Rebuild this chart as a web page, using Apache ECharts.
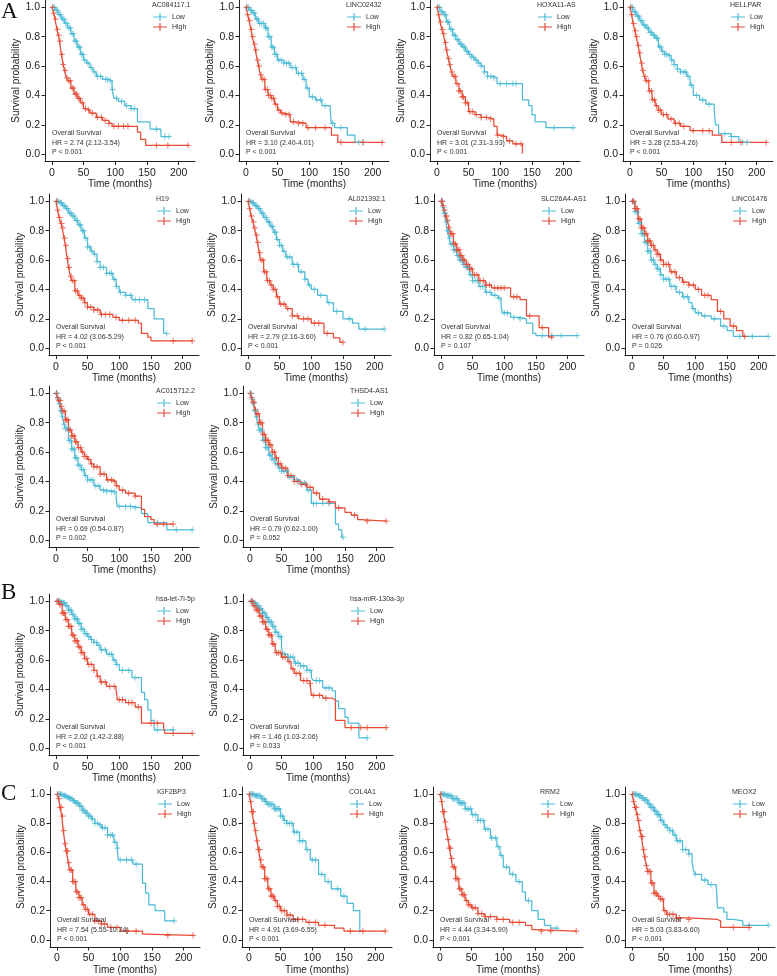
<!DOCTYPE html>
<html><head><meta charset="utf-8">
<script src="https://cdn.jsdelivr.net/npm/echarts@6/dist/echarts.min.js"></script>
<style>html,body{margin:0;padding:0;background:#fff}#c{width:777px;height:976px}</style>
</head><body><div id="c"></div>
<script>
const xTicks = [0, 50, 100, 150, 200];
const yTicks = [0, 0.2, 0.4, 0.6, 0.8, 1.0];
const groups = ['Low', 'High'];
const panelLetters = ['A', 'B', 'C'];
const genes = ['AC084117.1','LINC02432','HOXA11-AS','HELLPAR','H19','AL021392.1','SLC26A4-AS1','LINC01476','AC015712.2','THSD4-AS1','hsa-let-7i-5p','hsa-miR-130a-3p','IGF2BP3','COL4A1','RRM2','MEOX2'];
const hrLabels = ['HR = 2.74 (2.12-3.54)','HR = 3.10 (2.40-4.01)','HR = 3.01 (2.31-3.93)','HR = 3.28 (2.53-4.26)','HR = 4.02 (3.06-5.29)','HR = 2.79 (2.16-3.60)','HR = 0.82 (0.65-1.04)','HR = 0.76 (0.60-0.97)','HR = 0.69 (0.54-0.87)','HR = 0.79 (0.62-1.00)','HR = 2.02 (1.42-2.88)','HR = 1.46 (1.03-2.06)','HR = 7.54 (5.55-10.24)','HR = 4.91 (3.69-6.55)','HR = 4.44 (3.34-5.90)','HR = 5.03 (3.83-6.60)'];
const pLabels = ['P < 0.001','P < 0.001','P < 0.001','P < 0.001','P < 0.001','P < 0.001','P = 0.107','P = 0.026','P = 0.002','P = 0.052','P < 0.001','P = 0.033','P < 0.001','P < 0.001','P < 0.001','P < 0.001'];

// ---- curves: [time, survival] step points; censor: times ----
const ac084117_low = [[0,1],[5,0.98],[10,0.95],[15,0.92],[20,0.89],[25,0.86],[30,0.82],[35,0.77],[40,0.73],[45,0.68],[50,0.64],[55,0.62],[60,0.59],[65,0.56],[70,0.53],[80,0.51],[90,0.50],[95,0.44],[98,0.38],[105,0.36],[115,0.33],[125,0.31],[135,0.22],[155,0.17],[172,0.12]];
const ac084117_lowC = [2,4,7,9,12,14,17,19,22,24,27,29,32,34,37,39,42,44,47,49,52,57,62,67,72,77,85,88,92,96,102,110,118,125,130,165,178,185];
const ac084117_high = [[0,1],[3,0.96],[5,0.92],[8,0.85],[10,0.81],[12,0.77],[15,0.68],[18,0.61],[20,0.57],[23,0.52],[25,0.5],[30,0.45],[35,0.41],[40,0.38],[45,0.35],[50,0.31],[55,0.3],[60,0.28],[70,0.25],[80,0.23],[90,0.21],[95,0.19],[135,0.15],[140,0.1],[148,0.06]];
const ac084117_highC = [1,3,6,9,11,13,16,18,21,24,27,29,32,34,37,39,42,44,48,53,58,64,72,78,84,90,98,105,113,120,165,183,215];

const linc02432_low = [[0,1],[5,0.98],[10,0.96],[15,0.92],[20,0.89],[30,0.86],[35,0.80],[40,0.73],[45,0.68],[50,0.64],[60,0.62],[70,0.59],[80,0.55],[90,0.51],[95,0.45],[100,0.39],[110,0.37],[120,0.33],[133,0.30],[135,0.21],[140,0.18],[160,0.13],[172,0.08]];
const linc02432_lowC = [2,4,7,9,12,14,17,19,22,25,28,31,33,36,38,41,43,46,48,52,56,60,64,68,73,78,83,88,92,97,105,112,118,125,137,150,178,185];
const linc02432_high = [[0,1],[3,0.95],[5,0.91],[8,0.85],[10,0.80],[13,0.75],[15,0.71],[18,0.64],[20,0.60],[23,0.54],[25,0.51],[30,0.44],[35,0.40],[40,0.38],[45,0.34],[50,0.30],[55,0.28],[60,0.27],[70,0.22],[80,0.21],[95,0.18],[135,0.13],[145,0.08]];
const linc02432_highC = [1,3,6,9,11,14,16,19,21,24,26,29,31,34,36,39,41,44,47,52,57,63,68,75,83,90,98,110,125,150,185,215];

const hoxa11_low = [[0,1],[5,0.97],[10,0.95],[15,0.90],[20,0.85],[25,0.81],[30,0.78],[35,0.75],[40,0.73],[45,0.70],[50,0.68],[55,0.66],[60,0.64],[65,0.62],[70,0.60],[75,0.56],[80,0.53],[90,0.52],[95,0.48],[135,0.37],[145,0.33],[150,0.27],[155,0.22],[172,0.18]];
const hoxa11_lowC = [2,4,7,9,12,14,17,19,22,24,27,29,32,34,37,39,42,44,47,49,52,55,58,62,66,70,75,80,85,90,100,110,120,125,185,215];
const hoxa11_high = [[0,1],[3,0.95],[5,0.90],[8,0.85],[10,0.82],[13,0.76],[15,0.71],[18,0.65],[20,0.61],[23,0.56],[25,0.53],[30,0.48],[35,0.43],[40,0.39],[45,0.35],[50,0.29],[60,0.27],[70,0.25],[80,0.24],[90,0.19],[95,0.13],[100,0.12],[110,0.09],[120,0.07],[135,0.005]];
const hoxa11_highC = [1,3,6,9,11,14,16,19,21,24,27,29,32,35,37,40,42,45,48,52,56,62,70,78,85,96,105,115,125,133];

const hellpar_low = [[0,1],[5,0.97],[10,0.94],[15,0.91],[20,0.88],[25,0.86],[30,0.83],[35,0.81],[40,0.79],[45,0.73],[50,0.70],[55,0.68],[60,0.67],[65,0.64],[70,0.61],[75,0.58],[80,0.56],[90,0.53],[95,0.47],[100,0.40],[110,0.37],[120,0.34],[133,0.31],[135,0.20],[140,0.14],[160,0.12],[172,0.08]];
const hellpar_lowC = [2,4,7,9,12,14,17,19,22,24,27,29,32,34,37,39,42,44,47,49,52,55,58,62,66,70,75,80,85,88,92,97,105,115,125,150,160,178,185];
const hellpar_high = [[0,1],[3,0.95],[5,0.89],[8,0.84],[10,0.80],[13,0.74],[15,0.69],[18,0.62],[20,0.57],[23,0.53],[25,0.50],[30,0.43],[35,0.37],[40,0.33],[45,0.30],[50,0.27],[60,0.24],[70,0.21],[80,0.19],[95,0.16],[130,0.13],[145,0.08]];
const hellpar_highC = [1,3,6,9,11,14,16,19,21,24,26,29,31,34,36,39,42,45,48,53,58,65,72,78,85,100,115,125,160,175,215];

const h19_low = [[0,1],[5,0.99],[10,0.97],[15,0.95],[20,0.92],[25,0.90],[30,0.87],[35,0.84],[40,0.80],[45,0.75],[50,0.69],[55,0.66],[60,0.64],[65,0.59],[70,0.55],[80,0.51],[90,0.47],[95,0.42],[100,0.38],[110,0.36],[120,0.33],[145,0.27],[155,0.20],[170,0.10]];
const h19_lowC = [2,4,7,9,12,14,17,19,22,24,27,29,32,34,37,39,42,44,47,50,53,57,61,65,70,75,80,85,88,92,96,102,110,118,125,132,140,175];
const h19_high = [[0,1],[3,0.94],[5,0.89],[8,0.85],[10,0.82],[13,0.75],[15,0.70],[18,0.61],[20,0.55],[23,0.49],[25,0.46],[30,0.39],[35,0.36],[40,0.34],[45,0.31],[50,0.28],[60,0.26],[70,0.23],[90,0.21],[100,0.19],[130,0.17],[135,0.10],[145,0.075],[150,0.05]];
const h19_highC = [1,3,6,9,11,14,16,19,21,24,26,29,31,34,37,40,43,46,50,55,60,66,72,78,85,95,105,115,125,185,215];

const al021392_low = [[0,1],[5,0.99],[10,0.97],[15,0.95],[20,0.92],[25,0.89],[30,0.86],[35,0.83],[40,0.79],[45,0.74],[50,0.70],[55,0.66],[60,0.62],[70,0.57],[80,0.52],[90,0.47],[95,0.43],[100,0.40],[110,0.36],[125,0.31],[135,0.25],[150,0.20],[165,0.17],[175,0.13]];
const al021392_lowC = [2,4,7,9,12,14,17,19,22,24,27,29,32,34,37,39,42,44,47,50,53,57,62,66,72,78,84,90,97,105,115,128,140,160,185,215];
const al021392_high = [[0,1],[3,0.95],[5,0.90],[8,0.86],[10,0.82],[13,0.77],[15,0.72],[18,0.65],[20,0.60],[25,0.52],[30,0.46],[35,0.43],[40,0.40],[45,0.35],[50,0.30],[60,0.27],[70,0.22],[80,0.20],[100,0.17],[120,0.10],[135,0.07],[145,0.04]];
const al021392_highC = [1,3,6,9,11,14,16,19,21,24,26,29,31,34,37,40,43,47,52,57,63,70,78,88,95,105,112,125,150];

const slc26a4_low = [[0,1],[3,0.96],[5,0.92],[8,0.86],[10,0.80],[13,0.75],[15,0.71],[20,0.67],[25,0.63],[30,0.60],[35,0.57],[40,0.55],[45,0.50],[50,0.46],[60,0.42],[70,0.38],[80,0.36],[90,0.34],[95,0.29],[97,0.24],[110,0.21],[125,0.20],[135,0.17],[145,0.10],[150,0.086]];
const slc26a4_lowC = [1,2,4,6,7,9,11,12,14,16,18,20,22,24,26,28,30,32,34,36,38,40,42,44,47,50,54,58,62,66,72,78,85,92,100,105,115,125,160,175,190,215];
const slc26a4_high = [[0,1],[3,0.97],[5,0.94],[8,0.90],[10,0.87],[13,0.82],[15,0.78],[20,0.71],[25,0.67],[30,0.63],[35,0.60],[40,0.57],[45,0.54],[50,0.50],[60,0.46],[70,0.43],[80,0.41],[110,0.35],[125,0.33],[135,0.22],[155,0.14],[170,0.075]];
const slc26a4_highC = [1,2,4,6,8,9,11,13,15,17,19,21,23,25,27,29,31,33,35,37,40,43,46,49,53,57,62,67,72,77,85,90,95,100,115,120,140,160,175];

const linc01476_low = [[0,1],[5,0.93],[10,0.85],[15,0.78],[20,0.72],[25,0.66],[30,0.60],[35,0.57],[40,0.54],[45,0.50],[50,0.47],[60,0.42],[70,0.38],[80,0.35],[90,0.31],[95,0.27],[100,0.24],[110,0.22],[125,0.20],[140,0.15],[150,0.12],[160,0.08]];
const linc01476_lowC = [1,3,5,7,9,11,13,15,17,19,21,23,25,27,29,31,34,37,40,43,46,50,54,58,63,68,75,82,88,97,105,115,130,145,170,190,215];
const linc01476_high = [[0,1],[5,0.95],[10,0.88],[15,0.82],[20,0.78],[25,0.73],[30,0.70],[35,0.67],[40,0.64],[45,0.60],[50,0.57],[60,0.52],[70,0.48],[80,0.45],[90,0.43],[100,0.40],[110,0.36],[125,0.33],[135,0.25],[145,0.20],[155,0.15],[165,0.12],[175,0.08]];
const linc01476_highC = [1,3,5,7,9,11,13,15,17,19,21,23,25,27,29,31,34,37,40,43,46,50,54,58,63,68,75,82,90,97,105,115,120,140,160,178];

const ac015712_low = [[0,1],[3,0.96],[5,0.93],[8,0.88],[10,0.84],[13,0.79],[15,0.76],[20,0.68],[25,0.62],[30,0.56],[35,0.51],[40,0.48],[45,0.44],[50,0.41],[60,0.37],[70,0.34],[80,0.33],[95,0.29],[97,0.23],[120,0.22],[135,0.18],[145,0.12],[175,0.07]];
const ac015712_lowC = [1,2,4,6,8,9,11,13,15,17,19,21,23,25,27,29,31,33,35,38,41,44,47,50,54,58,63,68,75,80,88,92,100,110,118,125,160,190,215];
const ac015712_high = [[0,1],[3,0.97],[5,0.95],[8,0.91],[10,0.88],[15,0.82],[20,0.75],[25,0.71],[30,0.67],[35,0.63],[40,0.60],[45,0.57],[50,0.55],[55,0.52],[60,0.50],[70,0.45],[80,0.41],[90,0.40],[95,0.37],[100,0.34],[110,0.32],[125,0.30],[135,0.21],[140,0.16],[150,0.14],[155,0.11]];
const ac015712_highC = [1,3,5,7,9,11,13,15,17,19,21,23,25,27,29,31,33,36,39,42,45,48,52,56,60,65,70,76,82,88,92,96,105,115,125,160,170,185];

const thsd4_low = [[0,1],[3,0.96],[5,0.93],[8,0.88],[10,0.84],[13,0.79],[15,0.75],[20,0.68],[25,0.63],[30,0.58],[35,0.55],[40,0.52],[45,0.49],[50,0.47],[60,0.43],[70,0.41],[80,0.39],[90,0.34],[97,0.25],[135,0.11],[140,0.07],[145,0.02]];
const thsd4_lowC = [1,2,4,6,8,9,11,13,15,17,19,21,23,25,27,29,31,33,35,38,41,44,47,50,54,58,63,68,74,80,86,92,100,105,115,125,147];
const thsd4_high = [[0,1],[3,0.97],[5,0.94],[8,0.89],[10,0.86],[15,0.80],[20,0.72],[25,0.68],[30,0.65],[35,0.60],[40,0.56],[45,0.52],[50,0.49],[60,0.44],[70,0.40],[80,0.38],[90,0.36],[100,0.32],[110,0.28],[125,0.26],[135,0.22],[150,0.19],[160,0.17],[170,0.14],[175,0.13]];
const thsd4_highC = [1,3,5,7,9,11,13,15,17,19,21,23,25,27,29,31,33,36,39,42,45,48,52,56,60,65,70,76,82,88,95,105,115,125,140,165,185,215];

const let7i_low = [[0,1],[10,0.99],[15,0.97],[20,0.94],[25,0.91],[30,0.88],[35,0.85],[40,0.81],[45,0.78],[50,0.76],[55,0.74],[60,0.72],[65,0.70],[70,0.67],[80,0.64],[90,0.60],[95,0.57],[100,0.53],[120,0.48],[135,0.38],[140,0.33],[145,0.26],[150,0.19],[155,0.125]];
const let7i_lowC = [2,4,6,8,10,12,14,16,18,20,22,24,26,28,30,32,34,36,38,40,43,46,49,52,56,60,64,68,72,78,84,88,92,96,105,115,125,160,185];
const let7i_high = [[0,1],[5,0.98],[10,0.92],[15,0.875],[20,0.83],[25,0.77],[30,0.73],[35,0.69],[40,0.65],[45,0.61],[50,0.57],[60,0.53],[65,0.49],[70,0.45],[80,0.42],[95,0.40],[97,0.33],[110,0.31],[125,0.28],[135,0.17],[170,0.14],[172,0.10]];
const let7i_highC = [2,4,6,8,10,12,14,16,18,20,22,24,26,28,30,32,34,36,38,40,43,46,49,52,56,60,66,72,78,85,92,100,105,115,120,130,150,160,185,215];

const mir130a_low = [[0,1],[5,0.99],[10,0.97],[15,0.95],[20,0.92],[25,0.89],[30,0.86],[35,0.83],[40,0.79],[45,0.76],[50,0.69],[52,0.64],[60,0.62],[70,0.58],[80,0.56],[90,0.53],[97,0.48],[100,0.46],[115,0.41],[130,0.39],[135,0.32],[140,0.27],[150,0.21],[155,0.17],[172,0.07]];
const mir130a_lowC = [2,4,6,8,10,12,14,16,18,20,22,24,26,28,30,32,34,36,38,40,43,46,49,55,60,64,68,72,76,80,85,90,95,105,110,120,125,185];
const mir130a_high = [[0,1],[5,0.97],[10,0.94],[15,0.90],[20,0.86],[25,0.81],[30,0.77],[35,0.71],[40,0.65],[50,0.62],[60,0.59],[65,0.54],[70,0.51],[80,0.46],[95,0.44],[97,0.36],[115,0.34],[130,0.33],[135,0.19],[150,0.14]];
const mir130a_highC = [2,4,6,8,10,12,14,16,18,20,22,24,26,28,30,32,34,36,38,42,45,48,52,56,62,68,73,78,85,90,95,100,110,120,160,175,185,215];

const igf2bp3_low = [[0,1],[10,0.99],[15,0.98],[20,0.97],[25,0.955],[30,0.94],[35,0.92],[40,0.89],[45,0.87],[50,0.85],[55,0.83],[60,0.80],[65,0.79],[70,0.77],[80,0.72],[90,0.67],[95,0.63],[97,0.55],[120,0.52],[135,0.39],[140,0.32],[145,0.24],[155,0.20],[170,0.13]];
const igf2bp3_lowC = [2,4,6,8,10,12,14,16,18,20,22,24,26,28,30,32,34,36,38,40,42,44,46,48,50,53,56,60,64,68,72,76,80,85,88,92,96,100,110,118,125,185];
const igf2bp3_high = [[0,1],[3,0.97],[5,0.91],[8,0.85],[10,0.75],[13,0.66],[15,0.61],[18,0.53],[20,0.48],[25,0.40],[30,0.33],[35,0.29],[40,0.24],[45,0.21],[50,0.175],[60,0.13],[70,0.11],[80,0.085],[100,0.06],[135,0.04],[140,0.03]];
const igf2bp3_highC = [1,3,5,7,9,11,13,15,17,19,21,23,25,27,29,31,33,35,37,39,42,45,48,52,56,60,65,70,75,85,95,110,125,175,215];

const col4a1_low = [[0,1],[10,0.99],[20,0.97],[25,0.95],[30,0.93],[40,0.90],[50,0.85],[55,0.82],[60,0.80],[70,0.74],[80,0.68],[90,0.62],[97,0.55],[110,0.45],[120,0.40],[130,0.35],[145,0.30],[155,0.25],[165,0.20],[175,0.05]];
const col4a1_lowC = [2,4,6,8,10,12,14,16,18,20,22,24,26,28,30,32,34,36,38,40,42,44,46,48,50,53,56,60,64,68,72,76,80,85,92,100,105,115,125,140,150];
const col4a1_high = [[0,1],[3,0.95],[5,0.88],[8,0.80],[10,0.75],[13,0.68],[15,0.62],[18,0.55],[20,0.50],[25,0.42],[30,0.35],[35,0.30],[40,0.27],[45,0.23],[50,0.20],[60,0.17],[70,0.14],[90,0.12],[110,0.10],[135,0.08],[150,0.06]];
const col4a1_highC = [1,3,5,7,9,11,13,15,17,19,21,23,25,27,29,31,33,35,37,39,42,45,48,52,56,60,65,70,78,85,95,105,120,160,180,215];

const rrm2_low = [[0,1],[10,0.99],[20,0.97],[30,0.94],[40,0.90],[50,0.86],[60,0.82],[70,0.76],[80,0.70],[90,0.64],[95,0.58],[100,0.50],[110,0.45],[120,0.40],[130,0.33],[135,0.27],[145,0.20],[155,0.14],[165,0.10],[175,0.08]];
const rrm2_lowC = [2,4,6,8,10,12,14,16,18,20,22,24,26,28,30,32,34,36,38,40,43,46,49,52,56,60,64,68,72,76,82,88,92,97,105,115,125,140,185];
const rrm2_high = [[0,1],[3,0.95],[5,0.88],[8,0.81],[10,0.76],[13,0.69],[15,0.63],[18,0.56],[20,0.50],[25,0.42],[30,0.35],[35,0.31],[40,0.27],[45,0.24],[50,0.22],[60,0.18],[70,0.16],[90,0.14],[110,0.12],[135,0.10],[145,0.07],[150,0.06]];
const rrm2_highC = [1,3,5,7,9,11,13,15,17,19,21,23,25,27,29,31,33,35,37,39,42,45,48,52,56,60,66,72,80,90,100,115,125,160,175,215];

const meox2_low = [[0,1],[10,0.99],[15,0.975],[20,0.96],[25,0.935],[30,0.91],[35,0.885],[40,0.86],[45,0.82],[50,0.79],[55,0.77],[60,0.75],[65,0.72],[70,0.68],[80,0.62],[90,0.59],[95,0.54],[97,0.48],[100,0.45],[110,0.41],[120,0.38],[133,0.37],[135,0.22],[145,0.19],[150,0.14],[160,0.13],[175,0.10]];
const meox2_lowC = [2,4,6,8,10,12,14,16,18,20,22,24,26,28,30,32,34,36,38,40,42,44,46,48,52,56,60,64,68,72,76,80,85,90,100,115,125,185,215];
const meox2_high = [[0,1],[3,0.95],[5,0.91],[8,0.86],[10,0.82],[13,0.75],[15,0.71],[18,0.62],[20,0.57],[23,0.51],[25,0.47],[30,0.39],[35,0.32],[40,0.30],[45,0.28],[50,0.20],[55,0.175],[70,0.15],[90,0.14],[135,0.13],[140,0.085]];
const meox2_highC = [1,3,5,7,9,11,13,15,17,19,21,23,25,27,29,31,33,35,37,39,42,45,48,52,56,60,65,70,75,90,160,185];

const curves = [
  [ac084117_low, ac084117_lowC, ac084117_high, ac084117_highC],
  [linc02432_low, linc02432_lowC, linc02432_high, linc02432_highC],
  [hoxa11_low, hoxa11_lowC, hoxa11_high, hoxa11_highC],
  [hellpar_low, hellpar_lowC, hellpar_high, hellpar_highC],
  [h19_low, h19_lowC, h19_high, h19_highC],
  [al021392_low, al021392_lowC, al021392_high, al021392_highC],
  [slc26a4_low, slc26a4_lowC, slc26a4_high, slc26a4_highC],
  [linc01476_low, linc01476_lowC, linc01476_high, linc01476_highC],
  [ac015712_low, ac015712_lowC, ac015712_high, ac015712_highC],
  [thsd4_low, thsd4_lowC, thsd4_high, thsd4_highC],
  [let7i_low, let7i_lowC, let7i_high, let7i_highC],
  [mir130a_low, mir130a_lowC, mir130a_high, mir130a_highC],
  [igf2bp3_low, igf2bp3_lowC, igf2bp3_high, igf2bp3_highC],
  [col4a1_low, col4a1_lowC, col4a1_high, col4a1_highC],
  [rrm2_low, rrm2_lowC, rrm2_high, rrm2_highC],
  [meox2_low, meox2_lowC, meox2_high, meox2_highC]
];

// ---- layout ----
const panelRowCol = [[0,0],[0,1],[0,2],[0,3],[1,0],[1,1],[1,2],[1,3],[2,0],[2,1],[3,0],[3,1],[4,0],[4,1],[4,2],[4,3]];
const rowTops = [0, 194, 386, 594, 787];
const rowLefts = [[45,239,430,623],[49,241,434,625],[49,243],[49,243],[50,242,433,625]];
const W = 150, H = 161.5;
const colors = ['#4DBBD5', '#E64B35'];
const FONT = 'Liberation Sans, Arial, sans-serif';
const TXT = '#222';
const crossSym = 'path://M0,5H10M5,0V10';
const keyIcon = 'path://M0,3.4H14V4.6H0ZM6.4,0H7.6V8H6.4Z';

function sAt(curve, t) {
  let s = curve[0][1];
  for (const [ti, si] of curve) { if (ti <= t) s = si; else break; }
  return s;
}
function lineData(curve, cens) {
  const d = curve.slice();
  const last = d[d.length - 1];
  const maxC = Math.max(...cens);
  if (maxC > last[0]) d.push([maxC, last[1]]);
  return d;
}

const grid = [], xAxis = [], yAxis = [], series = [], legend = [], title = [];
panelLetters.forEach((L, i) => {
  const tops = [0, 581, 782];
  title.push({ text: L, left: 1, top: tops[i], padding: 0,
    textStyle: { fontFamily: 'Liberation Serif, Times New Roman, serif', fontSize: 23, fontWeight: 'normal', color: '#111' } });
});

panelRowCol.forEach(([r, c], i) => {
  const left = rowLefts[r][c], top = rowTops[r];
  grid.push({ left: left, top: top, width: W, height: H, containLabel: false });
  xAxis.push({
    type: 'value', gridIndex: i, min: -10.75, max: 225.75,
    name: 'Time (months)', nameLocation: 'middle', nameGap: 17,
    nameTextStyle: { fontSize: 10, color: TXT, fontFamily: FONT },
    axisLine: { show: true, onZero: false, lineStyle: { color: '#222', width: 1 } },
    axisTick: { show: true, length: 3.5, customValues: xTicks, lineStyle: { color: '#222' } },
    axisLabel: { customValues: xTicks, fontSize: 10.5, color: TXT, margin: 6, fontFamily: FONT },
    splitLine: { show: false }
  });
  yAxis.push({
    type: 'value', gridIndex: i, min: -0.05, max: 1.05,
    name: 'Survival probability', nameLocation: 'middle', nameGap: 22,
    nameTextStyle: { fontSize: 10, color: TXT, fontFamily: FONT },
    axisLine: { show: true, onZero: false, lineStyle: { color: '#222', width: 1 } },
    axisTick: { show: true, length: 3.5, customValues: yTicks, lineStyle: { color: '#222' } },
    axisLabel: { customValues: yTicks, fontSize: 10.5, color: TXT, margin: 5, fontFamily: FONT,
      formatter: v => Number(v).toFixed(1) },
    splitLine: { show: false }
  });
  const [lo, loC, hi, hiC] = curves[i];
  [[lo, loC], [hi, hiC]].forEach(([cv, cs], g) => {
    series.push({
      type: 'line', name: groups[g], xAxisIndex: i, yAxisIndex: i, step: 'end',
      data: lineData(cv, cs), showSymbol: false, symbol: 'none', silent: true, animation: false,
      lineStyle: { color: colors[g], width: 1.25 }, itemStyle: { color: colors[g] }, z: 2 + g
    });
    series.push({
      type: 'scatter', name: groups[g] + ' censored', xAxisIndex: i, yAxisIndex: i,
      data: cs.map(t => [t, sAt(cv, t)]), symbol: crossSym, symbolSize: 6, silent: true, animation: false,
      itemStyle: { color: 'transparent', borderColor: colors[g], borderWidth: 1 }, z: 3 + g
    });
  });
  legend.push({
    orient: 'vertical', left: left + 108, top: top + 13, itemWidth: 14, itemHeight: 8, itemGap: 2,
    padding: 0, selectedMode: false,
    textStyle: { fontSize: 7, color: '#333', fontFamily: FONT },
    data: groups.map(n => ({ name: n, icon: keyIcon }))
  });
  title.push({ text: genes[i], left: left + 107, top: top + 2, padding: 0,
    textStyle: { fontSize: 7, fontWeight: 'normal', color: '#333', fontFamily: FONT } });
  title.push({ text: 'Overall Survival\n' + hrLabels[i] + '\n' + pLabels[i], left: left + 7, top: top + 128.5, padding: 0,
    textStyle: { fontSize: 7, fontWeight: 'normal', color: '#333', lineHeight: 9.5, fontFamily: FONT } });
});

const chart = echarts.init(document.getElementById('c'), null, { renderer: 'canvas' });
chart.setOption({
  animation: false,
  backgroundColor: '#fff',
  textStyle: { fontFamily: FONT },
  title, grid, xAxis, yAxis, legend, series
});
</script></body></html>
